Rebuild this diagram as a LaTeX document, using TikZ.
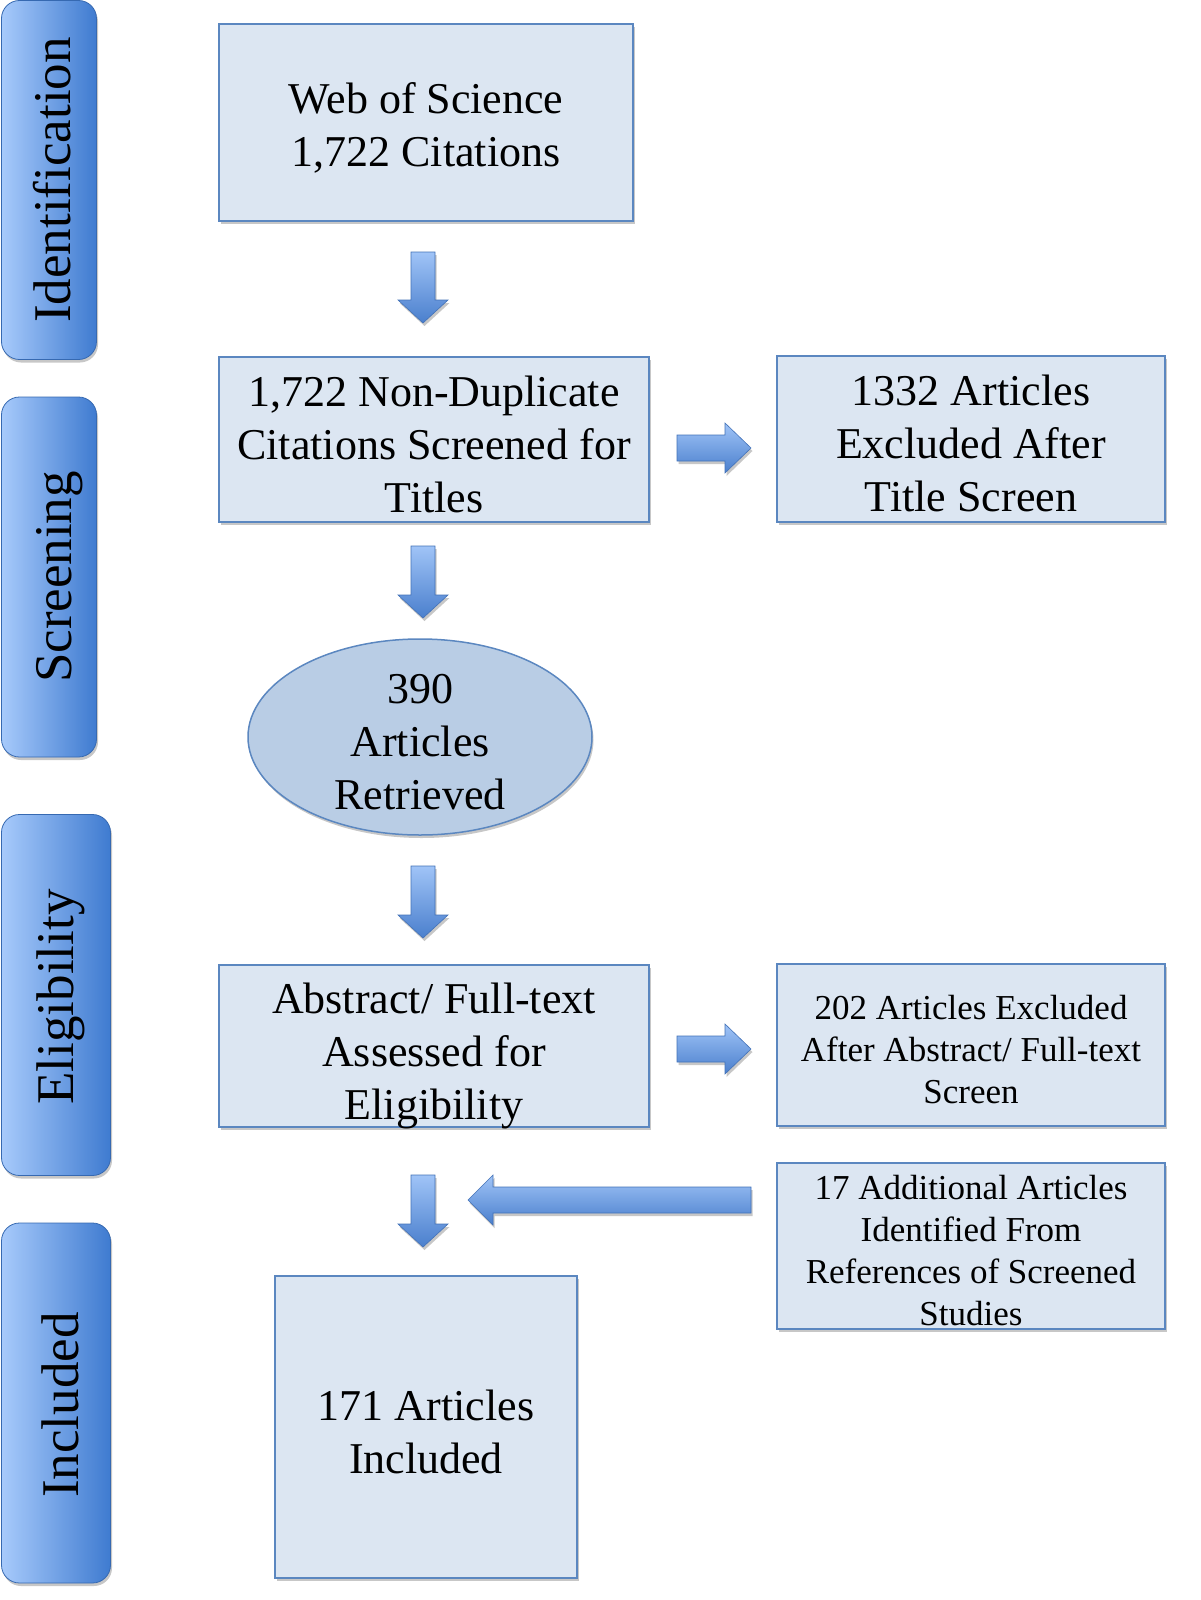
\documentclass[tikz,border=0pt]{standalone}
\usepackage{fontspec}
\setmainfont{Liberation Serif}
\usetikzlibrary{shadows,calc,shapes.geometric}
\definecolor{boxfill}{HTML}{DCE6F2}
\definecolor{boxline}{HTML}{5B87C0}
\definecolor{ellfill}{HTML}{B9CDE5}
\definecolor{tablight}{HTML}{A7CAFB}
\definecolor{tabdark}{HTML}{3F7BD0}
\definecolor{arrlight}{HTML}{A0C4F7}
\definecolor{arrdark}{HTML}{4A7FCD}
\tikzset{
 every node/.style={inner sep=0pt, outer sep=0pt},
 shadowed/.style={drop shadow={shadow xshift=1.5pt, shadow yshift=-3pt, opacity=0.22, fill=black}},
 flowbox/.style={draw=boxline, line width=1.5pt, fill=boxfill, shadowed},
 boxtext/.style={align=center},
 bigtext/.style={font=\fontsize{44}{53}\selectfont},
 smalltext/.style={font=\fontsize{35}{42}\selectfont},
 tabbox/.style={rounded corners=18pt, left color=tablight, right color=tabdark, draw=tabdark!85!black, line width=0.8pt, shadowed},
 tablabel/.style={rotate=90, anchor=base, font=\fontsize{53}{60}\selectfont},
 arrowshape/.style={top color=arrlight, bottom color=arrdark, draw=arrdark!90!black, line width=0.6pt, shadowed},
}
\newcommand\downblock[2]{%
 \path[arrowshape] let \p1=(#1), \p2=(#2) in
  (\x1-12pt,\y1) -- (\x1+12pt,\y1) -- (\x1+12pt,\y2+23pt) -- (\x1+25pt,\y2+23pt)
  -- (\x1,\y2) -- (\x1-25pt,\y2+23pt) -- (\x1-12pt,\y2+23pt) -- cycle;}
\newcommand\rightblock[2]{%
 \path[arrowshape] let \p1=(#1), \p2=(#2) in
  (\x1,\y1+13pt) -- (\x2-26pt,\y1+13pt) -- (\x2-26pt,\y1+25pt) -- (\x2,\y1)
  -- (\x2-26pt,\y1-25pt) -- (\x2-26pt,\y1-13pt) -- (\x1,\y1-13pt) -- cycle;}
\newcommand\leftblock[2]{%
 \path[arrowshape] let \p1=(#1), \p2=(#2) in
  (\x1,\y1+13pt) -- (\x2+25pt,\y1+13pt) -- (\x2+25pt,\y1+25pt) -- (\x2,\y1)
  -- (\x2+25pt,\y1-25pt) -- (\x2+25pt,\y1-13pt) -- (\x1,\y1-13pt) -- cycle;}
\begin{document}
\begin{tikzpicture}[x=1pt,y=-1pt]
\fill[white] (0,0) rectangle (1200,1600);
\useasboundingbox (0,0) rectangle (1200,1600);

% phase tabs
\node[tabbox, minimum width=95pt, minimum height=359pt] (tabI) at (49,180) {};
\node[tablabel] (tabIt) at (70,180) {Identification};
\node[tabbox, minimum width=95pt, minimum height=360pt] (tabS) at (49,577) {};
\node[tablabel] (tabSt) at (71,577) {Screening};
\node[tabbox, minimum width=109pt, minimum height=361pt] (tabE) at (56,995) {};
\node[tablabel] (tabEt) at (73,997) {Eligibility};
\node[tabbox, minimum width=109pt, minimum height=360pt] (tabN) at (56,1403) {};
\node[tablabel] (tabNt) at (78,1405) {Included};

% flow boxes
\node[flowbox, minimum width=414pt, minimum height=197pt] (web) at (426,122.5) {};
\node[boxtext, bigtext] (webt) at ($(web.center)+(0,5)$) {Web of Science\\1,722 Citations};
\node[flowbox, minimum width=430pt, minimum height=165pt] (nondup) at (434,439.5) {};
\node[boxtext, bigtext] (nondupt) at ($(nondup.center)+(0,4.5)$)
  {1,722 Non-Duplicate\\Citations Screened for\\Titles};
\node[flowbox, minimum width=388pt, minimum height=166pt] (excl1) at (971,439) {};
\node[boxtext, bigtext] (excl1t) at ($(excl1.center)+(0,4)$)
  {1332 Articles\\Excluded After\\Title Screen};
\node[ellipse, draw=boxline, line width=1.5pt, fill=ellfill, shadowed,
  minimum width=344pt, minimum height=196pt] (retr) at (420,737) {};
\node[boxtext, bigtext] (retrt) at ($(retr.center)+(0,5)$) {390\\Articles\\Retrieved};
\node[flowbox, minimum width=430pt, minimum height=162pt] (abs) at (434,1046) {};
\node[boxtext, bigtext] (abst) at ($(abs.center)+(0,10)$)
  {Abstract/ Full-text\\Assessed for\\Eligibility};
\node[flowbox, minimum width=388pt, minimum height=162pt] (excl2) at (971,1045) {};
\node[boxtext, smalltext] (excl2t) at ($(excl2.center)+(0,4.5)$)
  {202 Articles Excluded\\After Abstract/ Full-text\\Screen};
\node[flowbox, minimum width=388pt, minimum height=166pt] (addl) at (971,1246) {};
\node[boxtext, smalltext] (addlt) at ($(addl.center)+(0,4.5)$)
  {17 Additional Articles\\Identified From\\References of Screened\\Studies};
\node[flowbox, minimum width=302pt, minimum height=302pt] (incl) at (426,1427) {};
\node[boxtext, bigtext] (inclt) at ($(incl.center)+(0,4.5)$) {171 Articles\\Included};

% arrow ends
\coordinate (a1s) at (423,252);  \coordinate (a1e) at (423,323);
\coordinate (a2s) at (423,546);  \coordinate (a2e) at (423,618);
\coordinate (a3s) at (423,866);  \coordinate (a3e) at (423,938);
\coordinate (a4s) at (423,1175); \coordinate (a4e) at (423,1247);
\coordinate (r1s) at (677,448);  \coordinate (r1e) at (751,448);
\coordinate (r2s) at (677,1049); \coordinate (r2e) at (751,1049);
\coordinate (l1s) at (751,1200); \coordinate (l1e) at (468,1200);

\downblock{a1s}{a1e}
\downblock{a2s}{a2e}
\downblock{a3s}{a3e}
\downblock{a4s}{a4e}
\rightblock{r1s}{r1e}
\rightblock{r2s}{r2e}
\leftblock{l1s}{l1e}
\end{tikzpicture}
\end{document}
